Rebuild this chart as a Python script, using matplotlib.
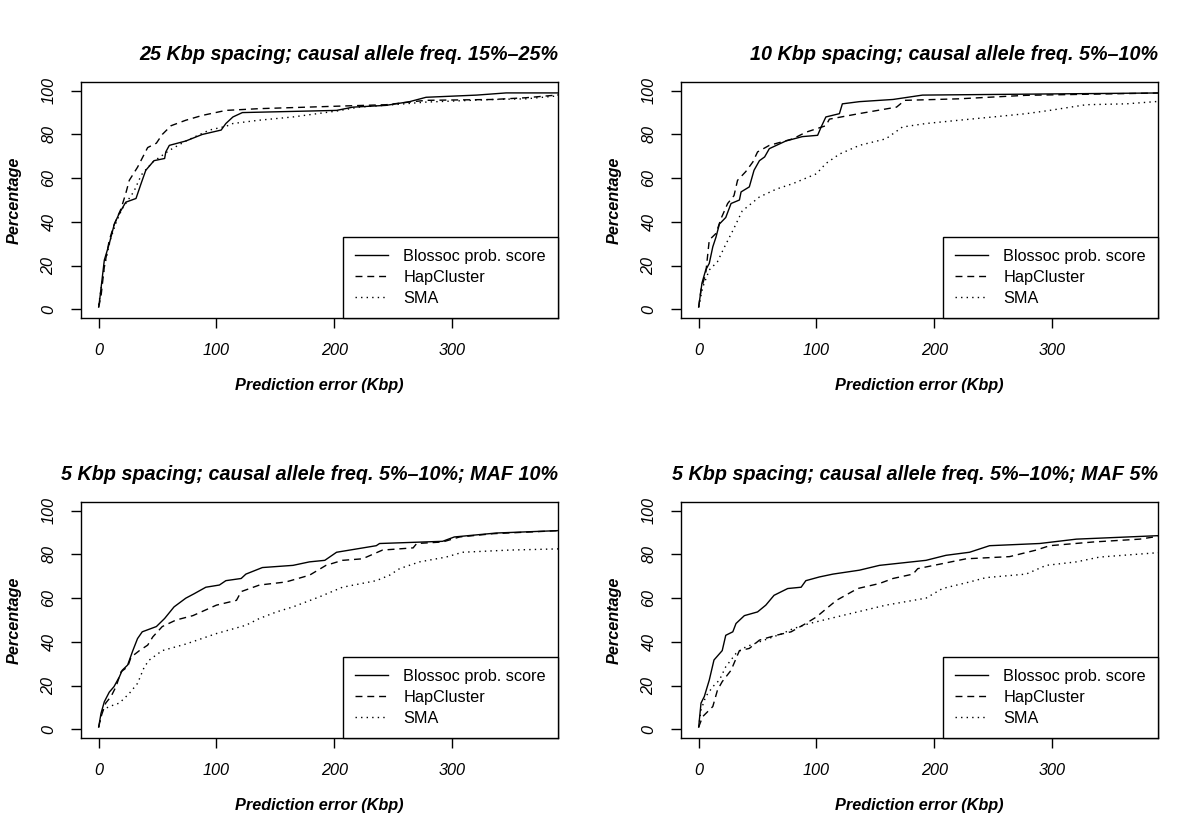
import matplotlib
matplotlib.use("Agg")
import matplotlib.pyplot as plt

plt.rcParams['font.family'] = ['Liberation Sans', 'DejaVu Sans']

# ---- data ----
titles = ["25 Kbp spacing; causal allele freq. 15%–25%",
          "10 Kbp spacing; causal allele freq. 5%–10%",
          "5 Kbp spacing; causal allele freq. 5%–10%; MAF 10%",
          "5 Kbp spacing; causal allele freq. 5%–10%; MAF 5%"]
labels = ["Blossoc prob. score", "HapCluster", "SMA"]

# 25 Kbp
b25_x = [0, 1, 4.8, 9, 13.3, 17.6, 23, 31.7, 36, 40, 47, 56, 57, 60, 74, 88, 104, 108, 114, 122, 202, 216, 244, 264, 278, 321, 346, 395]
b25_y = [1, 5, 22.5, 30, 39, 44, 49, 50.7, 57.5, 63.6, 68, 69, 72, 75, 77, 80, 82, 85, 88, 90, 91, 92.5, 93.3, 95, 97, 98, 99, 99]
h25_x = [0, 2, 4.8, 9, 13, 19, 23, 26, 33, 41.6, 49, 54, 61.5, 74, 88, 108, 136.5, 207, 244, 267, 278, 335, 363, 395]
h25_y = [1, 6, 19.5, 31.6, 38.5, 46, 53, 59, 65, 74, 76, 80, 84, 86.5, 88.7, 91, 91.8, 93, 93.6, 95, 95.6, 96, 96.8, 98.3]
s25_x = [0, 5, 10, 15, 20, 25, 30, 35, 37, 46, 60, 74, 94, 108, 114, 136, 165, 202, 221, 250, 278, 335, 363, 395]
s25_y = [2, 20, 32, 40, 46, 50, 54, 60, 62, 67.4, 72.7, 77, 82, 83.7, 85, 86.5, 88, 90.7, 92.5, 93.6, 94.8, 96, 96.3, 97.9]

# 10 Kbp
b10_x = [0, 2.8, 6, 9, 12, 14.7, 17.6, 23, 27.5, 34.6, 36, 43, 47, 51.6, 56, 60, 74, 88, 101, 104, 108, 119.5, 122, 136.5, 165, 190, 395]
b10_y = [1, 12, 18, 21, 28.6, 33, 39, 42, 48.4, 50, 53.7, 56, 63.6, 68, 69.7, 73.5, 77, 79, 79.6, 83.4, 88, 89.5, 94, 95, 96, 98, 99]
h10_x = [0, 2, 6, 9, 14.7, 19, 24.6, 30, 33, 40, 46, 50, 60, 80, 91, 108, 111, 136, 168, 175, 221, 278, 395]
h10_y = [1, 9, 16.4, 31.7, 34.7, 41.5, 48.4, 52, 59, 63, 67.4, 72, 75, 78, 81, 84, 87, 89.5, 92.5, 95.6, 96.3, 97.9, 99]
s10_x = [0, 3.4, 9, 16, 22, 29, 37, 51.6, 66, 80, 100, 108, 119.5, 136.5, 159, 173, 193, 221, 250, 278, 298, 329, 363, 395]
s10_y = [1, 10, 18, 21.8, 28.6, 36, 45, 51.4, 55, 57.5, 62, 66.7, 71, 75, 78, 83.4, 85, 86.5, 88, 89.5, 91, 93.6, 94, 95.3]

# 5 Kbp, MAF 10%
bm10_x = [0, 2, 4.8, 9, 13, 17.6, 20, 24.6, 29, 33, 37, 49, 56, 64, 74, 81, 91, 102.5, 108, 121, 125, 139, 165, 179, 192, 202, 235.7, 238.5, 292, 302, 337.7, 395]
bm10_y = [1, 7.3, 12.6, 17, 19.5, 24, 27, 29.4, 36, 41.5, 44.6, 47, 50.7, 56, 60, 62, 65, 66, 68, 69, 71, 74, 75, 76.6, 77.3, 81, 84, 85, 86, 88, 89.8, 91]
hm10_x = [0, 2, 6, 10.5, 14.7, 19, 24.6, 27.5, 34.6, 41.6, 46, 54, 65.7, 80, 100, 117, 121, 136.5, 159, 179, 193, 207, 224, 241, 267, 270, 292, 306.5, 335, 395]
hm10_y = [1, 5.8, 12, 15, 19.5, 26.3, 28.6, 33, 36, 38.5, 42.3, 47, 50, 52, 56.8, 59, 63, 66, 67.4, 70.5, 75, 77.3, 78, 82, 83, 85, 85.7, 88, 89.5, 91]
sm10_x = [0, 3.4, 9, 17.6, 26, 33, 38.8, 43, 54, 74, 100, 125, 136.5, 151, 165, 187.5, 207, 235.7, 247, 255.5, 272.5, 295, 309, 349, 395]
sm10_y = [1, 8.8, 10.4, 12, 16.4, 21, 28.6, 31.7, 36, 39, 43.8, 47.6, 50.7, 53.7, 56, 60.6, 65, 68, 70.5, 73.5, 76.6, 78.8, 81, 82, 82.6]

# 5 Kbp, MAF 5%
bm5_x = [0, 2, 4.8, 9, 13, 20, 23, 29, 31.7, 38.8, 50, 57, 64, 75.6, 87, 91, 102.5, 114, 136.5, 153.5, 193, 210, 230, 247, 289.5, 320.7, 395]
bm5_y = [1, 12, 15, 22.5, 31.7, 36, 43, 44.6, 48.4, 52, 53.7, 56.8, 61.3, 64.4, 65, 68, 69.7, 71, 72.8, 75, 77.3, 79.6, 81, 84, 85, 87, 88.7]
hm5_x = [0, 3.4, 12, 16, 20, 27.5, 34.6, 43, 51.6, 65.7, 78.5, 91, 100, 108, 117, 135, 153.5, 165, 182, 186, 207, 227, 264, 286.6, 298, 335, 374.5, 395]
hm5_y = [1, 5.8, 10.4, 18, 21.8, 27, 36, 37, 40.8, 43, 44.6, 48.4, 51.4, 55, 59, 64.4, 66.7, 69, 71, 73.5, 75.8, 78, 79, 82, 84, 85.7, 87, 88.7]
sm5_x = [0, 2, 6, 12, 17.6, 23, 31.7, 40, 51.6, 71, 80, 94, 117, 159, 193, 207, 230, 244, 278, 295, 320.7, 340.5, 395]
sm5_y = [1, 8.8, 15, 19.5, 22.5, 28.6, 34.7, 37.7, 40, 43.8, 46, 48.4, 51.4, 56.8, 60, 64.4, 67.4, 69.4, 71, 75, 76.6, 78.8, 81]

panels = [
    [(b25_x, b25_y), (h25_x, h25_y), (s25_x, s25_y)],
    [(b10_x, b10_y), (h10_x, h10_y), (s10_x, s10_y)],
    [(bm10_x, bm10_y), (hm10_x, hm10_y), (sm10_x, sm10_y)],
    [(bm5_x, bm5_y), (hm5_x, hm5_y), (sm5_x, sm5_y)],
]

xticks = [0, 100, 200, 300]
yticks = [0, 20, 40, 60, 80, 100]
xmax = 375
fs = 11.7

styles = [dict(linestyle='-'),
          dict(linestyle=(0, (5, 3.5))),
          dict(linestyle=(0, (1, 3)))]

fig = plt.figure(figsize=(12, 8.4), dpi=100)
positions = [(0.0675, 0.6214), (0.5675, 0.6214), (0.0675, 0.1214), (0.5675, 0.1214)]

for i, (left, bottom) in enumerate(positions):
    ax = fig.add_axes([left, bottom, 0.3975, 0.281])
    for (xs, ys), lab, st in zip(panels[i], labels, styles):
        ax.plot(xs, ys, color='black', linewidth=1.0, label=lab, **st)
    ax.set_xlim(-0.04 * xmax, 1.04 * xmax)
    ax.set_ylim(-4, 104)
    ax.set_xticks(xticks)
    ax.set_yticks(yticks)
    ax.set_xticklabels([str(v) for v in xticks], fontsize=fs, style='italic')
    ax.set_yticklabels([str(v) for v in yticks], fontsize=fs, style='italic',
                       rotation=90, va='center')
    ax.tick_params(direction='out', length=7.2, width=1.0, pad=10.5)
    for sp in ax.spines.values():
        sp.set_linewidth(1.0)
    ax.set_title(titles[i], loc='right', fontsize=14.2, fontweight='bold',
                 style='italic', pad=16)
    ax.set_xlabel("Prediction error (Kbp)", fontsize=fs, fontweight='bold',
                  style='italic', labelpad=15)
    ax.set_ylabel("Percentage", fontsize=fs, fontweight='bold',
                  style='italic', labelpad=14)
    leg = ax.legend(loc='lower right', bbox_to_anchor=(1, 0), borderaxespad=0,
                    fontsize=fs, fancybox=False, framealpha=1, edgecolor='black',
                    handlelength=2.0, handletextpad=0.95, borderpad=0.75,
                    labelspacing=0.36)
    leg.get_frame().set_linewidth(1.0)

fig.savefig("out.png", dpi=100)
